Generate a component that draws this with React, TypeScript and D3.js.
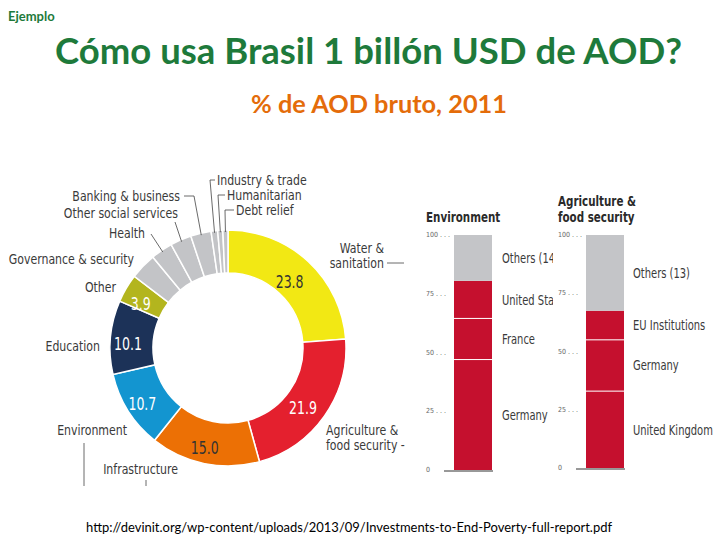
import React from "react";
import * as d3 from "d3";

const donutLabels = [
  "Water & sanitation",
  "Agriculture & food security",
  "Infrastructure",
  "Environment",
  "Education",
  "Other",
  "Governance & security",
  "Health",
  "Other social services",
  "Banking & business",
  "Industry & trade",
  "Humanitarian",
  "Debt relief",
];
const donutValues = [23.8, 21.9, 15.0, 10.7, 10.1, 3.9, 3.6, 3.0, 2.9, 2.8, 0.9, 0.7, 0.7];
const donutShown = [true, true, true, true, true, true, false, false, false, false, false, false, false];
const donutColors = [
  "#f2e814", "#e4202e", "#ec7005", "#1395d0", "#1c3258", "#b3b51e",
  "#c3c4c7", "#c3c4c7", "#c3c4c7", "#c3c4c7", "#c3c4c7", "#c3c4c7", "#c3c4c7",
];
const donutTextDark = [true, false, true, false, false, false];

const envDonors = ["Germany", "France", "United States", "Others (14)"];
const envShares = [47, 17.5, 16, 19.5];
const agriDonors = ["United Kingdom", "Germany", "EU Institutions", "Others (13)"];
const agriShares = [33, 22, 12.5, 32.5];
const barTicks = [0, 25, 50, 75, 100];

const NARROW = "'DejaVu Sans Condensed', 'Liberation Sans Narrow', sans-serif";
const TXT = "#3a3a3a";
const SX = 0.84;

type Lab = { x: number; y: number; anchor: string; lines?: string[]; leader?: [number, number][]; toArc?: boolean };
const labelLayout: Lab[] = [
  { x: 384, y: 253, anchor: "end", lines: ["Water &", "sanitation"], leader: [[387, 263], [404, 263]] },
  { x: 326, y: 435, anchor: "start", lines: ["Agriculture &", "food security -"] },
  { x: 178, y: 474, anchor: "end", leader: [[146, 480], [146, 486]] },
  { x: 127, y: 435, anchor: "end", leader: [[84, 443], [84, 486]] },
  { x: 100, y: 351, anchor: "end" },
  { x: 116, y: 292, anchor: "end" },
  { x: 134, y: 264, anchor: "end" },
  { x: 145, y: 238, anchor: "end", leader: [[151, 234]], toArc: true },
  { x: 178, y: 218, anchor: "end", leader: [[175, 222]], toArc: true },
  { x: 180, y: 201, anchor: "end", leader: [[184, 196], [194, 196]], toArc: true },
  { x: 217, y: 185, anchor: "start", leader: [[215, 180], [210, 180]], toArc: true },
  { x: 227, y: 200, anchor: "start", leader: [[225, 195], [218, 195]], toArc: true },
  { x: 236, y: 215, anchor: "start", leader: [[234, 210], [225, 210]], toArc: true },
];

function NText({ x, y, children, anchor = "start", size = 14.5, fill = TXT, weight = "normal", sx = SX }: any) {
  return (
    <text transform={`translate(${x},${y}) scale(${sx},1)`} textAnchor={anchor} fontFamily={NARROW}
      fontSize={size} fill={fill} fontWeight={weight}>
      {children}
    </text>
  );
}

function StackBar({ title, donors, shares, x0, yBottom, yTop, titleY, tickX, labelX, clipW, id }: any) {
  const y = d3.scaleLinear().domain([0, 100]).range([yBottom, yTop]);
  const cum = d3.cumsum(shares);
  const barW = 38;
  const barX = x0;
  const nRed = shares.length - 1;
  return (
    <g>
      <defs>
        <clipPath id={id}>
          <rect x={tickX - 10} y={150} width={clipW} height={340} />
        </clipPath>
      </defs>
      <g clipPath={`url(#${id})`}>
        {title.map((t: string, i: number) => (
          <NText key={i} x={tickX} y={titleY + i * 16} size={14} weight="bold" fill="#2a2a2a" sx={0.82}>
            {t}
          </NText>
        ))}
        {barTicks.map((t) => (
          <text key={t} x={tickX} y={y(t) + 2} fontFamily={NARROW} fontSize={7} fill="#666">
            {t + (t === 0 ? "" : " . . .")}
          </text>
        ))}
        {shares.map((s: number, i: number) => {
          const lo = i === 0 ? 0 : cum[i - 1];
          const hi = cum[i];
          return (
            <rect key={i} x={barX} width={barW} y={y(hi)} height={y(lo) - y(hi)}
              fill={i < nRed ? "#c5102e" : "#c4c5c8"} />
          );
        })}
        {shares.slice(0, nRed - 1).map((s: number, i: number) => (
          <line key={i} x1={barX} x2={barX + barW} y1={y(cum[i])} y2={y(cum[i])} stroke="#fff" strokeWidth={1} />
        ))}
        <line x1={barX - 10} x2={barX + barW + 1} y1={yBottom + 1} y2={yBottom + 1} stroke="#333" strokeWidth={1} />
        {donors.map((d: string, i: number) => {
          const lo = i === 0 ? 0 : cum[i - 1];
          const mid = (lo + cum[i]) / 2;
          return (
            <NText key={d} x={labelX} y={y(mid) + 5} size={13.5} sx={0.82}>
              {d}
            </NText>
          );
        })}
      </g>
    </g>
  );
}

export default function App() {
  const cx = 228, cy = 348, rO = 118, rI = 75;
  const pie = d3.pie<number>().sort(null).value((d) => d)(donutValues);
  const arc = d3.arc<d3.PieArcDatum<number>>().innerRadius(rI).outerRadius(rO);
  const midAngle = (p: d3.PieArcDatum<number>) => (p.startAngle + p.endAngle) / 2;

  return (
    <svg width={720} height={540} style={{ position: "absolute", left: 0, top: 0, background: "#fff" }}>
      <text x={8} y={21} fontFamily="Lato, 'Open Sans', sans-serif" fontWeight="bold" fontSize={13} fill="#1e7a3b">
        Ejemplo
      </text>
      <text x={55} y={64} fontFamily="Lato, 'Open Sans', sans-serif" fontWeight="bold" fontSize={37} fill="#1e7a3b"
        textLength={627} lengthAdjust="spacingAndGlyphs">
        Cómo usa Brasil 1 billón USD de AOD?
      </text>
      <text x={251} y={113} fontFamily="Lato, 'Open Sans', sans-serif" fontWeight="bold" fontSize={24} fill="#e46c0a"
        textLength={256} lengthAdjust="spacingAndGlyphs">
        % de AOD bruto, 2011
      </text>

      <g>
        {pie.map((p, i) => (
          <path key={i} d={arc(p) || ""} transform={`translate(${cx},${cy})`} fill={donutColors[i]}
            stroke="#fff" strokeWidth={1.5} />
        ))}
        {pie.map((p, i) => {
          if (!donutShown[i]) return null;
          const [x, y] = arc.centroid(p);
          return (
            <NText key={"v" + i} x={cx + x - 4} y={cy + y + 11} anchor="middle" size={17} sx={0.82}
              fill={donutTextDark[i] ? "#333" : "#fff"}>
              {donutValues[i].toFixed(1)}
            </NText>
          );
        })}
        {donutLabels.map((lab, i) => {
          const L = labelLayout[i];
          const lines = L.lines || [lab];
          let pts: [number, number][] = L.leader ? [...L.leader] : [];
          if (L.toArc) {
            const a = midAngle(pie[i]);
            pts.push([cx + Math.sin(a) * (rO - 2), cy - Math.cos(a) * (rO - 2)]);
          }
          return (
            <g key={"l" + i}>
              {lines.map((t, j) => (
                <NText key={j} x={L.x} y={L.y + j * 15} anchor={L.anchor}>
                  {t}
                </NText>
              ))}
              {pts.length > 1 && (
                <path d={d3.line()(pts) || ""} fill="none" stroke="#444" strokeWidth={0.8} />
              )}
            </g>
          );
        })}
      </g>

      <StackBar id="c1" title={["Environment"]} donors={envDonors} shares={envShares} x0={454} yBottom={470} yTop={235}
        titleY={222} tickX={426} labelX={502} clipW={137} />
      <StackBar id="c2" title={["Agriculture &", "food security"]} donors={agriDonors} shares={agriShares} x0={586}
        yBottom={468} yTop={235} titleY={206} tickX={558} labelX={633} clipW={170} />

      <text x={86} y={532} fontFamily="Lato, 'Open Sans', sans-serif" fontSize={13} fill="#000"
        textLength={526} lengthAdjust="spacingAndGlyphs">
        http://devinit.org/wp-content/uploads/2013/09/Investments-to-End-Poverty-full-report.pdf
      </text>
    </svg>
  );
}
